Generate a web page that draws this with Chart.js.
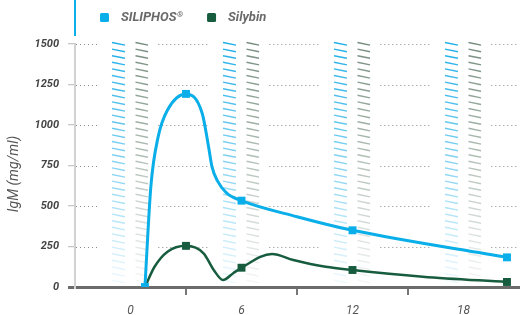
<!DOCTYPE html>
<html>
<head>
<meta charset="utf-8">
<script src="https://cdn.jsdelivr.net/npm/chart.js@4.4.1/dist/chart.umd.min.js"></script>
<style>
    body { margin: 0; background: #fff; }
    #wrap { width: 528px; height: 315px; position: relative; }
</style>
</head>
<body>
<div id="wrap"><canvas id="myChart"></canvas></div>
<script>
// data (x = hours, y = IgM mg/ml)
const siliphos_x = [0.78, 1.1, 1.5, 2.0, 3, 3.87, 4.22, 4.4, 4.7, 5.2, 6, 9, 12, 20.35];
const siliphos_y = [0, 620, 930, 1093, 1192, 1074, 866, 745, 655, 580, 533, 434, 350, 183];
const siliphos_marked = [true, false, false, false, true, false, false, false, false, false, true, false, true, true];

const silybin_x = [0.78, 1.3, 2.0, 3, 3.95, 4.5, 5.0, 5.55, 6, 7.65, 8.8, 10.55, 12, 15.8, 20.35];
const silybin_y = [0, 125, 218, 254, 208, 105, 43, 85, 119, 204, 167, 125, 105, 64, 31];
const silybin_marked = [false, false, false, true, false, false, false, false, true, false, false, false, true, false, true];

const x_labels = [0, 6, 12, 18];
const x_minor_ticks = [3, 9, 15];
const series_names = ["SILIPHOS®", "Silybin"];
const y_title = "IgM (mg/ml)";

const blue = "#0aaee8";
const green = "#175c3e";
const font_family = "Roboto, 'Open Sans', sans-serif";

function to_points(xs, ys) {
    return xs.map((x, i) => ({x: x, y: ys[i]}));
}

// hatched bands and dotted grid segments around each labelled hour
const background_plugin = {
    id: "bands",
    beforeDatasetsDraw(chart) {
        const ctx = chart.ctx;
        const xs = chart.scales.x, ys = chart.scales.y;
        const top = chart.chartArea.top, bottom = chart.chartArea.bottom;
        ctx.save();
        // dotted grid
        ctx.strokeStyle = "#8a8a8a";
        ctx.lineWidth = 1;
        ctx.setLineDash([1, 3]);
        let segs = [];
        let start = xs.min;
        for (let i = 0; i < x_labels.length; i++) {
            segs.push([start, x_labels[i] - 1.8]);
            start = x_labels[i] + 1.45;
        }
        segs.push([start, xs.max]);
        ys.ticks.forEach(t => {
            if (t.value === 0) return;
            let y = Math.round(ys.getPixelForValue(t.value)) + 0.5;
            segs.forEach(s => {
                ctx.beginPath();
                ctx.moveTo(xs.getPixelForValue(s[0]) + 1, y);
                ctx.lineTo(xs.getPixelForValue(s[1]), y);
                ctx.stroke();
            });
        });
        ctx.setLineDash([]);
        // hatches
        ctx.lineWidth = 1.4;
        for (let i = 0; i < x_labels.length; i++) {
            let c = x_labels[i];
            let b1 = xs.getPixelForValue(c - 1.0), b2 = xs.getPixelForValue(c - 0.3);
            let g1 = xs.getPixelForValue(c + 0.27), g2 = xs.getPixelForValue(c + 0.95);
            for (let y = top - 1.5; y < bottom - 6; y += 6.6) {
                let t = (y - top) / (bottom - top);
                let a = 0.95 - 0.9 * t;
                ctx.strokeStyle = `rgba(20,170,230,${a})`;
                ctx.beginPath();
                ctx.moveTo(b1, y);
                ctx.lineTo(b2, y + 2.6);
                ctx.stroke();
                ctx.strokeStyle = `rgba(110,135,120,${a})`;
                ctx.beginPath();
                ctx.moveTo(g1, y);
                ctx.lineTo(g2, y + 2.6);
                ctx.stroke();
            }
        }
        ctx.restore();
    },
    afterDraw(chart) {
        const ctx = chart.ctx;
        const left = chart.chartArea.left;
        ctx.save();
        // blue rule at the top
        ctx.strokeStyle = blue;
        ctx.lineWidth = 2;
        ctx.beginPath();
        ctx.moveTo(left, 0);
        ctx.lineTo(left, 36);
        ctx.stroke();
        // legend
        let x = 100;
        const y = 17.5;
        const big = `italic bold 13px ${font_family}`;
        const small = `italic bold 8px ${font_family}`;
        ctx.textBaseline = "middle";
        ctx.textAlign = "left";
        chart.data.datasets.forEach(ds => {
            ctx.fillStyle = ds.borderColor;
            ctx.beginPath();
            ctx.roundRect(x, y - 4.5, 9, 9, 1.5);
            ctx.fill();
            x += 21;
            ctx.fillStyle = "#6a6a6a";
            let text = ds.label;
            let mark = "";
            if (text.endsWith("®")) {
                mark = "®";
                text = text.slice(0, -1);
            }
            ctx.font = big;
            ctx.fillText(text, x, y);
            x += ctx.measureText(text).width;
            if (mark) {
                ctx.font = small;
                ctx.fillText(mark, x + 0.5, y - 3);
                x += ctx.measureText(mark).width + 0.5;
            }
            x += 24;
        });
        // y axis title
        ctx.translate(14, 174);
        ctx.rotate(-Math.PI / 2);
        ctx.font = `italic 14px ${font_family}`;
        ctx.textAlign = "center";
        ctx.fillStyle = "#555";
        ctx.fillText(y_title, 0, 0);
        ctx.restore();
    }
};

const ctx = document.getElementById("myChart");
const config = {
    type: "line",
    data: {
        datasets: [
            {
                label: series_names[0],
                data: to_points(siliphos_x, siliphos_y),
                borderColor: blue,
                backgroundColor: blue,
                borderWidth: 3,
                cubicInterpolationMode: "monotone",
                pointStyle: "rect",
                pointRadius: siliphos_marked.map(m => m ? 5.6 : 0),
                pointBorderWidth: 0,
                pointBackgroundColor: blue,
            },
            {
                label: series_names[1],
                data: to_points(silybin_x, silybin_y),
                borderColor: green,
                backgroundColor: green,
                borderWidth: 2.5,
                cubicInterpolationMode: "monotone",
                pointStyle: "rect",
                pointRadius: silybin_marked.map(m => m ? 5.6 : 0),
                pointBorderWidth: 0,
                pointBackgroundColor: green,
            }
        ]
    },
    plugins: [background_plugin],
    options: {
        responsive: true,
        maintainAspectRatio: false,
        animation: false,
        layout: {
            padding: {top: 44, right: 0, bottom: 0, left: 0}
        },
        plugins: {
            legend: {display: false},
            tooltip: {enabled: false},
        },
        scales: {
            x: {
                type: "linear",
                min: -3,
                max: 21,
                afterFit(scale) { scale.height = 28; },
                ticks: {
                    stepSize: 3,
                    autoSkip: false,
                    maxRotation: 0,
                    padding: 9,
                    color: "#555",
                    font: {family: font_family, size: 12, style: "italic"},
                    callback: v => x_labels.includes(v) ? String(v) : "",
                },
                grid: {
                    drawOnChartArea: false,
                    drawTicks: true,
                    tickLength: 8,
                    lineWidth: 2,
                    color: c => (c.tick && x_minor_ticks.includes(c.tick.value)) ? "#777" : "rgba(0,0,0,0)",
                },
                border: {color: "#6b6b6b", width: 3},
            },
            y: {
                min: 0,
                max: 1500,
                afterFit(scale) { scale.width = 75; },
                ticks: {
                    stepSize: 250,
                    padding: 9,
                    color: "#444",
                    font: {family: font_family, size: 11, style: "italic", weight: "bold"},
                    callback: v => String(v),
                },
                grid: {
                    drawOnChartArea: false,
                    drawTicks: true,
                    tickLength: 7,
                    color: c => (c.tick && c.tick.value === 0) ? "#6b6b6b" : "#c8c8c8",
                    lineWidth: c => (c.tick && c.tick.value === 0) ? 3 : 1.3,
                },
                border: {color: "#d2d2d2", width: 2},
            }
        }
    }
};
const chart = new Chart(ctx, config);
</script>
</body>
</html>
